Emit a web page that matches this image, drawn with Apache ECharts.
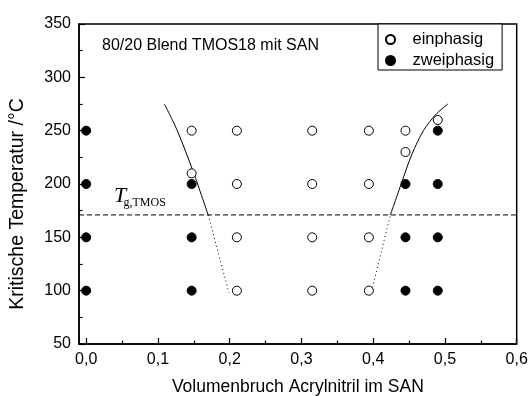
<!DOCTYPE html>
<html>
<head>
<meta charset="utf-8">
<script src="https://cdn.jsdelivr.net/npm/echarts@6/dist/echarts.min.js"></script>
<style>
  html, body { margin: 0; padding: 0; background: #fff; }
  #chart { width: 528px; height: 396px; }
</style>
</head>
<body>
<div id="chart"></div>
<script>
// Measured phase states: [AN volume fraction, temperature in °C]
const einphasig = [
  [0.147, 250], [0.147, 210],
  [0.21, 250], [0.21, 200], [0.21, 150], [0.21, 100],
  [0.315, 250], [0.315, 200], [0.315, 150], [0.315, 100],
  [0.394, 250], [0.394, 200], [0.394, 150], [0.394, 100],
  [0.445, 250], [0.445, 230],
  [0.49, 260]
];
const zweiphasig = [
  [0, 250], [0, 200], [0, 150], [0, 100],
  [0.147, 200], [0.147, 150], [0.147, 100],
  [0.445, 200], [0.445, 150], [0.445, 100],
  [0.49, 250], [0.49, 200], [0.49, 150], [0.49, 100]
];

// Glass transition of TMOS
const tgTmos = 171;

// Miscibility window boundaries (solid above Tg, dotted below)
const leftBoundary = [[0.109, 275], [0.127, 250], [0.150, 210], [0.170, 171]];
const leftBelowTg = [[0.170, 171], [0.199, 98]];
const rightBelowTg = [[0.399, 103], [0.424, 171]];
const rightBoundary = [[0.424, 171], [0.439, 200], [0.454, 228], [0.470, 250], [0.487, 265], [0.504, 275]];

// Axis ranges and ticks
const xMin = -0.01, xMax = 0.6;
const xTicks = [0, 0.1, 0.2, 0.3, 0.4, 0.5, 0.6];
const xMinorTicks = [0.05, 0.15, 0.25, 0.35, 0.45, 0.55];
const yMin = 50, yMax = 350, yStep = 50;

const SANS = 'Liberation Sans, Arial, sans-serif';
const SERIF = 'Liberation Serif, Times New Roman, serif';
const BLACK = '#000';

const chart = echarts.init(document.getElementById('chart'), null, { renderer: 'canvas' });

const lineSeries = (data, type) => ({
  type: 'line',
  data: data,
  smooth: type === 'solid' ? 0.3 : false,
  showSymbol: false,
  silent: true,
  lineStyle: { color: BLACK, width: 1, type: type },
  z: 3
});

chart.setOption({
  animation: false,
  backgroundColor: '#fff',
  title: {
    text: '80/20 Blend TMOS18 mit SAN',
    left: 102,
    top: 38,
    padding: 0,
    textStyle: { fontFamily: SANS, fontSize: 16, fontWeight: 'normal', color: BLACK }
  },
  legend: {
    orient: 'vertical',
    left: 378,
    top: 24,
    padding: [7, 8, 1, 7],
    itemGap: 4,
    itemWidth: 34,
    itemHeight: 9,
    borderColor: BLACK,
    borderWidth: 1,
    backgroundColor: '#fff',
    selectedMode: false,
    textStyle: { fontFamily: SANS, fontSize: 16.5, color: BLACK },
    data: ['einphasig', 'zweiphasig']
  },
  grid: {
    left: 79,
    right: 11.3,
    top: 24,
    bottom: 52,
    outerBoundsMode: 'none',
    containLabel: false,
    show: true,
    borderColor: BLACK,
    borderWidth: 1.5,
    backgroundColor: 'transparent'
  },
  xAxis: [
    {
      type: 'value',
      min: xMin,
      max: xMax,
      splitLine: { show: false },
      axisLine: { onZero: false, lineStyle: { color: BLACK, width: 1.5 } },
      axisTick: { inside: true, length: 6, customValues: xTicks, lineStyle: { color: BLACK, width: 1.2 } },
      axisLabel: {
        customValues: xTicks,
        margin: 8,
        fontFamily: SANS,
        fontSize: 16,
        color: BLACK,
        formatter: v => v.toFixed(1).replace('.', ',')
      },
      name: 'Volumenbruch Acrylnitril im SAN',
      nameLocation: 'middle',
      nameGap: 34,
      nameTextStyle: { fontFamily: SANS, fontSize: 17.5, color: BLACK }
    },
    {
      // minor ticks along the bottom edge
      type: 'value',
      position: 'bottom',
      min: xMin,
      max: xMax,
      splitLine: { show: false },
      axisLine: { show: false, onZero: false },
      axisTick: { inside: true, length: 3.5, customValues: xMinorTicks, lineStyle: { color: BLACK, width: 1.2 } },
      axisLabel: { show: false }
    }
  ],
  yAxis: {
    type: 'value',
    min: yMin,
    max: yMax,
    interval: yStep,
    splitLine: { show: false },
    axisLine: { show: true, onZero: false, lineStyle: { color: BLACK, width: 1.5 } },
    axisTick: { show: true, inside: true, length: 6, lineStyle: { color: BLACK, width: 1.2 } },
    minorTick: { show: true, splitNumber: 2, length: 3.5, lineStyle: { color: BLACK, width: 1.2 } },
    axisLabel: { margin: 8, fontFamily: SANS, fontSize: 16, color: BLACK }
  },
  graphic: [
    {
      type: 'text',
      x: 18,
      y: 204,
      rotation: Math.PI / 2,
      style: {
        text: 'Kritische Temperatur /°C',
        font: '19.5px ' + SANS,
        fill: BLACK,
        align: 'center',
        verticalAlign: 'middle'
      }
    },
    {
      type: 'text',
      x: 114,
      y: 196,
      style: {
        text: 'T',
        font: 'italic 22px ' + SERIF,
        fill: BLACK,
        align: 'left',
        verticalAlign: 'middle'
      }
    },
    {
      type: 'text',
      x: 123.5,
      y: 203,
      style: {
        text: 'g,TMOS',
        font: '12px ' + SERIF,
        fill: BLACK,
        align: 'left',
        verticalAlign: 'middle'
      }
    }
  ],
  series: [
    {
      name: 'einphasig',
      type: 'scatter',
      data: einphasig,
      symbol: 'circle',
      symbolSize: 9,
      itemStyle: { color: '#fff', borderColor: BLACK, borderWidth: 1, opacity: 1 },
      z: 5
    },
    {
      name: 'zweiphasig',
      type: 'scatter',
      data: zweiphasig,
      symbol: 'circle',
      symbolSize: 9,
      itemStyle: { color: BLACK, borderColor: BLACK, borderWidth: 1, opacity: 1 },
      z: 5
    },
    lineSeries([[xMin, tgTmos], [xMax, tgTmos]], [5, 3]),
    lineSeries(leftBoundary, 'solid'),
    lineSeries(leftBelowTg, [1, 3]),
    lineSeries(rightBelowTg, [1, 3]),
    lineSeries(rightBoundary, 'solid')
  ]
});
</script>
</body>
</html>
